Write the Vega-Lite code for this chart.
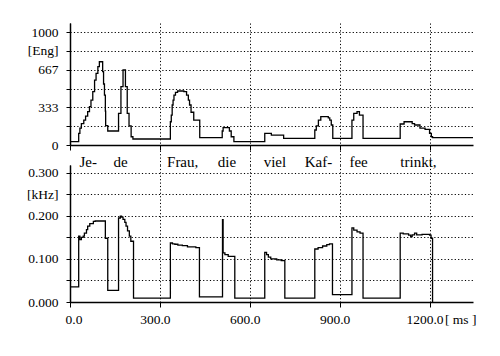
{
  "$schema": "https://vega.github.io/schema/vega-lite/v6.json",
  "background": "white",
  "padding": {"left": 26, "top": 23, "right": 5, "bottom": 5},
  "bounds": "flush",
  "spacing": 0,
  "config": {
    "view": {"stroke": null},
    "font": "Times New Roman",
    "axis": {
      "labelFont": "Times New Roman",
      "labelFontSize": 13.5,
      "labelColor": "black",
      "labelOverlap": false,
      "domainColor": "black",
      "domainWidth": 1.5,
      "tickColor": "black",
      "tickWidth": 1,
      "gridColor": "black",
      "gridDash": [1.2, 2.2],
      "gridOpacity": 1,
      "gridWidth": 1,
      "titleFont": "Times New Roman",
      "titleColor": "black"
    }
  },
  "datasets": {
    "energy": [
      {"t": 0, "e": 30}, {"t": 29, "e": 103}, {"t": 33, "e": 150}, {"t": 38, "e": 190}, {"t": 46, "e": 221},
      {"t": 52, "e": 255}, {"t": 59, "e": 295}, {"t": 65, "e": 339}, {"t": 70, "e": 398}, {"t": 76, "e": 472},
      {"t": 82, "e": 575}, {"t": 87, "e": 634}, {"t": 93, "e": 693}, {"t": 98, "e": 737}, {"t": 109, "e": 649},
      {"t": 112, "e": 540}, {"t": 115, "e": 442}, {"t": 118, "e": 300}, {"t": 119, "e": 171}, {"t": 126, "e": 124},
      {"t": 162, "e": 280}, {"t": 170, "e": 516}, {"t": 177, "e": 664}, {"t": 185, "e": 516}, {"t": 191, "e": 280},
      {"t": 197, "e": 170}, {"t": 204, "e": 73}, {"t": 210, "e": 53},
      {"t": 335, "e": 206}, {"t": 338, "e": 265}, {"t": 341, "e": 354}, {"t": 344, "e": 398}, {"t": 347, "e": 442},
      {"t": 352, "e": 466}, {"t": 359, "e": 478}, {"t": 380, "e": 472}, {"t": 389, "e": 442}, {"t": 395, "e": 398},
      {"t": 399, "e": 354}, {"t": 404, "e": 290}, {"t": 413, "e": 221}, {"t": 433, "e": 65},
      {"t": 508, "e": 124}, {"t": 511, "e": 153}, {"t": 532, "e": 124}, {"t": 538, "e": 73}, {"t": 547, "e": 29},
      {"t": 650, "e": 103}, {"t": 672, "e": 88}, {"t": 713, "e": 59},
      {"t": 817, "e": 133}, {"t": 822, "e": 170}, {"t": 829, "e": 221}, {"t": 837, "e": 251}, {"t": 862, "e": 240},
      {"t": 867, "e": 221}, {"t": 872, "e": 177}, {"t": 877, "e": 59},
      {"t": 941, "e": 221}, {"t": 947, "e": 280}, {"t": 958, "e": 295}, {"t": 966, "e": 265}, {"t": 978, "e": 59},
      {"t": 1102, "e": 186}, {"t": 1115, "e": 206}, {"t": 1142, "e": 190}, {"t": 1150, "e": 177}, {"t": 1168, "e": 150},
      {"t": 1185, "e": 139}, {"t": 1200, "e": 103}, {"t": 1206, "e": 73}, {"t": 1210, "e": 65}, {"t": 1345, "e": 65}
    ],
    "pitch": [
      {"t": 0, "f": 0.035}, {"t": 29, "f": 0.153}, {"t": 33, "f": 0.145}, {"t": 38, "f": 0.150}, {"t": 44, "f": 0.153},
      {"t": 48, "f": 0.160}, {"t": 55, "f": 0.168}, {"t": 59, "f": 0.176}, {"t": 66, "f": 0.182}, {"t": 78, "f": 0.187},
      {"t": 84, "f": 0.188}, {"t": 118, "f": 0.148}, {"t": 126, "f": 0.027},
      {"t": 162, "f": 0.195}, {"t": 168, "f": 0.199}, {"t": 172, "f": 0.197}, {"t": 177, "f": 0.192}, {"t": 183, "f": 0.185},
      {"t": 187, "f": 0.176}, {"t": 192, "f": 0.165}, {"t": 198, "f": 0.153}, {"t": 203, "f": 0.141}, {"t": 212, "f": 0.009},
      {"t": 335, "f": 0.137}, {"t": 342, "f": 0.135}, {"t": 350, "f": 0.134}, {"t": 360, "f": 0.132}, {"t": 375, "f": 0.131},
      {"t": 392, "f": 0.128}, {"t": 420, "f": 0.126}, {"t": 432, "f": 0.012},
      {"t": 509, "f": 0.191}, {"t": 511, "f": 0.114}, {"t": 517, "f": 0.110}, {"t": 528, "f": 0.106}, {"t": 550, "f": 0.009},
      {"t": 650, "f": 0.115}, {"t": 656, "f": 0.110}, {"t": 662, "f": 0.104}, {"t": 670, "f": 0.100}, {"t": 690, "f": 0.098},
      {"t": 705, "f": 0.096}, {"t": 717, "f": 0.009},
      {"t": 817, "f": 0.123}, {"t": 828, "f": 0.126}, {"t": 843, "f": 0.130}, {"t": 857, "f": 0.133}, {"t": 866, "f": 0.135},
      {"t": 876, "f": 0.017},
      {"t": 941, "f": 0.172}, {"t": 947, "f": 0.167}, {"t": 958, "f": 0.163}, {"t": 968, "f": 0.160}, {"t": 978, "f": 0.009},
      {"t": 1102, "f": 0.160}, {"t": 1112, "f": 0.158}, {"t": 1130, "f": 0.155}, {"t": 1137, "f": 0.152}, {"t": 1142, "f": 0.156},
      {"t": 1150, "f": 0.160}, {"t": 1157, "f": 0.156}, {"t": 1175, "f": 0.157}, {"t": 1200, "f": 0.155}, {"t": 1205, "f": 0.148},
      {"t": 1210, "f": 0.0}
    ],
    "words": [
      {"t": 61, "w": "Je-"}, {"t": 169, "w": "de"}, {"t": 376, "w": "Frau,"}, {"t": 524, "w": "die"},
      {"t": 684, "w": "viel"}, {"t": 829, "w": "Kaf-"}, {"t": 963, "w": "fee"}, {"t": 1163, "w": "trinkt,"}
    ]
  },
  "vconcat": [
    {
      "width": 403,
      "height": 122,
      "data": {"name": "energy"},
      "mark": {"type": "line", "interpolate": "step-after", "color": "black", "strokeWidth": 1.3},
      "encoding": {
        "x": {
          "field": "t", "type": "quantitative",
          "scale": {"domain": [0, 1345], "nice": false, "zero": false},
          "axis": {"values": [0, 300, 600, 900, 1200], "labels": false, "title": null, "tickSize": 5, "grid": true}
        },
        "y": {
          "field": "e", "type": "quantitative",
          "scale": {"domain": [0, 1080], "nice": false},
          "axis": {
            "values": [0, 166.67, 333.33, 500, 666.67, 833.33, 1000],
            "labelExpr": "datum.value == 0 ? '0' : abs(datum.value - 333.33) < 1 ? '333' : abs(datum.value - 666.67) < 1 ? '667' : datum.value == 1000 ? '1000' : abs(datum.value - 833.33) < 1 ? '[Eng]' : ''",
            "title": null, "tickSize": 4, "labelPadding": 8, "grid": true
          }
        }
      }
    },
    {
      "width": 403,
      "height": 20,
      "data": {"name": "words"},
      "mark": {"type": "text", "font": "Times New Roman", "fontSize": 15, "baseline": "top", "align": "center", "color": "black"},
      "encoding": {
        "x": {
          "field": "t", "type": "quantitative",
          "scale": {"domain": [0, 1345], "nice": false, "zero": false},
          "axis": {"values": [300, 600, 900, 1200], "labels": false, "ticks": false, "domain": false, "grid": true, "title": null}
        },
        "text": {"field": "w"}
      }
    },
    {
      "width": 403,
      "height": 137,
      "data": {"name": "pitch"},
      "mark": {"type": "line", "interpolate": "step-after", "color": "black", "strokeWidth": 1.3},
      "encoding": {
        "x": {
          "field": "t", "type": "quantitative",
          "scale": {"domain": [0, 1345], "nice": false, "zero": false},
          "axis": {
            "values": [0, 300, 600, 900, 1200], "format": ".1f", "tickSize": 5, "labelPadding": 5, "grid": true,
            "labelOffset": -5,
            "title": "[ ms ]", "titleFontSize": 13.5, "titleFontWeight": "normal",
            "titleAnchor": "end", "titleAlign": "right", "titleBaseline": "top", "titleX": 406, "titleY": 10
          }
        },
        "y": {
          "field": "f", "type": "quantitative",
          "scale": {"domain": [0, 0.318], "nice": false},
          "axis": {
            "values": [0, 0.05, 0.1, 0.15, 0.2, 0.25, 0.3],
            "labelExpr": "datum.value == 0 ? '0.000' : datum.value == 0.1 ? '0.100' : datum.value == 0.2 ? '0.200' : datum.value == 0.3 ? '0.300' : datum.value == 0.25 ? '[kHz]' : ''",
            "title": null, "tickSize": 4, "labelPadding": 8, "grid": true
          }
        }
      }
    }
  ]
}
